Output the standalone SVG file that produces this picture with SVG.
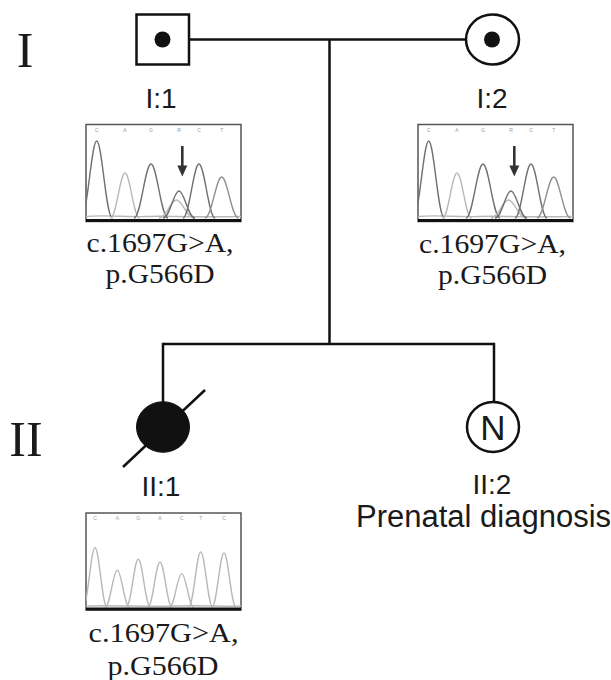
<svg xmlns="http://www.w3.org/2000/svg" xmlns:xlink="http://www.w3.org/1999/xlink" width="611" height="680" viewBox="0 0 611 680">
<style>
  .ln { stroke: #111; stroke-width: 2.5; fill: none; }
  .sym { stroke: #111; stroke-width: 2.5; fill: #fff; }
  .lab { font-family: "Liberation Sans", Arial, sans-serif; font-size: 28px; fill: #1a1a1a; text-anchor: middle; }
  .gen { font-family: "Liberation Serif", "Times New Roman", serif; font-size: 50px; fill: #1a1a1a; text-anchor: middle; }
  .mut { font-family: "Liberation Serif", "Times New Roman", serif; font-size: 27px; fill: #1a1a1a; text-anchor: middle; }
  .base { font-family: "Liberation Sans", Arial, sans-serif; font-size: 5px; fill: #999; text-anchor: middle; }
  .pk { fill: none; stroke-width: 1.4; }
  .dk { stroke: #707070; }
  .md { stroke: #909090; }
  .lt { stroke: #b8b8b8; }
</style>
<defs>
  <clipPath id="boxclip"><rect x="0" y="0" width="155" height="97"/></clipPath>
  <g id="chromHet">
    <rect x="0" y="0" width="155" height="97" fill="#fff" stroke="#555" stroke-width="1.5"/>
    <g clip-path="url(#boxclip)">
      <text class="base" x="10.7" y="7">C</text>
      <text class="base" x="39" y="7">A</text>
      <text class="base" x="65" y="7">G</text>
      <text class="base" x="93" y="7">R</text>
      <text class="base" x="113" y="7">C</text>
      <text class="base" x="135.7" y="7">T</text>
      <path class="pk lt" d="M0,92 C20,90 40,93 60,92 C80,91 100,93 155,92"/>
      <path class="pk dk" d="M-5,93.5 C1.5,93.5 5.3,16.5 10.7,16.5 C16.1,16.5 19.9,93.5 26.4,93.5"/>
      <path class="pk lt" d="M24.5,93.5 C30.4,93.5 33.9,48.5 39,48.5 C44.1,48.5 47.6,93.5 53.5,93.5"/>
      <path class="pk dk" d="M48,93.5 C54.8,93.5 59.1,39.5 65,39.5 C70.9,39.5 75.2,93.5 82,93.5"/>
      <path class="pk lt" d="M73,93.5 C80.4,93.5 84.5,75.5 90.5,75.5 C96.5,75.5 100.6,93.5 108,93.5"/>
      <path class="pk dk" d="M77,93.5 C84,93.5 87.5,66.5 93,66.5 C98.5,66.5 102,93.5 109,93.5"/>
      <path class="pk dk" d="M97,93.5 C103.3,93.5 107.5,39.5 113,39.5 C118.5,39.5 122.7,93.5 129,93.5"/>
      <path class="pk md" d="M119,93.5 C125.8,93.5 130,52.5 135.7,52.5 C141.4,52.5 145.6,93.5 152.4,93.5"/>
    </g>
    <line x1="0" y1="96" x2="155" y2="96" stroke="#111" stroke-width="3"/>
    <line x1="96.3" y1="21.5" x2="96.3" y2="42" stroke="#333" stroke-width="2.6"/>
    <polygon points="91.3,41 101.3,41 96.3,52" fill="#333"/>
  </g>
  <g id="chromHom">
    <rect x="0" y="0" width="155" height="97" fill="#fff" stroke="#555" stroke-width="1.5"/>
    <g clip-path="url(#boxclip)">
      <text class="base" x="9" y="7">C</text>
      <text class="base" x="31.3" y="7">A</text>
      <text class="base" x="52.3" y="7">G</text>
      <text class="base" x="74" y="7">A</text>
      <text class="base" x="95.7" y="7">C</text>
      <text class="base" x="114.7" y="7">T</text>
      <text class="base" x="138" y="7">C</text>
      <path class="pk lt" d="M0,93 C30,92 60,94 90,93 C120,92 140,94 155,93"/>
      <path class="pk lt" d="M-3,94 C1.8,94 4.8,34.6 9,34.6 C13.2,34.6 16.2,94 21,94"/>
      <path class="pk lt" d="M19.3,94 C24.1,94 27.1,57.3 31.3,57.3 C35.5,57.3 38.5,94 43.3,94"/>
      <path class="pk lt" d="M40.3,94 C45.1,94 48.1,46.3 52.3,46.3 C56.5,46.3 59.5,94 64.3,94"/>
      <path class="pk lt" d="M62,94 C66.8,94 69.8,49 74,49 C78.2,49 81.2,94 86,94"/>
      <path class="pk lt" d="M83.7,94 C88.5,94 91.5,60.6 95.7,60.6 C99.9,60.6 102.9,94 107.7,94"/>
      <path class="pk lt" d="M102.7,94 C107.5,94 110.5,39 114.7,39 C118.9,39 121.9,94 126.7,94"/>
      <path class="pk lt" d="M126,94 C130.8,94 133.8,40 138,40 C142.2,40 145.2,94 150,94"/>
    </g>
    <line x1="0" y1="96" x2="155" y2="96" stroke="#111" stroke-width="3"/>
  </g>
</defs>
<rect width="611" height="680" fill="#fff"/>

<g id="generation-labels">
  <text class="gen" x="25" y="67">I</text>
  <text class="gen" x="26" y="456">II</text>
</g>

<g id="connectors">
  <line class="ln" x1="189" y1="39.5" x2="466" y2="39.5"/>
  <line class="ln" x1="329.5" y1="39.5" x2="329.5" y2="344"/>
  <line class="ln" x1="163" y1="344" x2="494" y2="344"/>
  <line class="ln" x1="163" y1="342.8" x2="163" y2="402"/>
  <line class="ln" x1="494" y1="342.8" x2="494" y2="402"/>
</g>

<g id="I-1">
  <rect class="sym" x="136.5" y="14.5" width="52.5" height="50"/>
  <circle cx="162.5" cy="39.5" r="8" fill="#111"/>
  <text class="lab" x="161" y="108">I:1</text>
  <use xlink:href="#chromHet" href="#chromHet" transform="translate(86,124.5)"/>
  <text class="mut" x="160" y="252" textLength="147" lengthAdjust="spacingAndGlyphs">c.1697G&gt;A,</text>
  <text class="mut" x="160" y="283" textLength="109" lengthAdjust="spacingAndGlyphs">p.G566D</text>
</g>

<g id="I-2">
  <ellipse class="sym" cx="492.5" cy="39.5" rx="26.5" ry="25"/>
  <circle cx="492" cy="39.5" r="8" fill="#111"/>
  <text class="lab" x="492" y="108">I:2</text>
  <use xlink:href="#chromHet" href="#chromHet" transform="translate(418,124.5)"/>
  <text class="mut" x="492.5" y="253" textLength="147" lengthAdjust="spacingAndGlyphs">c.1697G&gt;A,</text>
  <text class="mut" x="492.5" y="284" textLength="109" lengthAdjust="spacingAndGlyphs">p.G566D</text>
</g>

<g id="II-1">
  <ellipse cx="163" cy="427" rx="26.5" ry="25.3" fill="#111" stroke="#111" stroke-width="1"/>
  <line class="ln" x1="123" y1="467" x2="205" y2="390"/>
  <text class="lab" x="161" y="496">II:1</text>
  <use xlink:href="#chromHom" href="#chromHom" transform="translate(86,513)"/>
  <text class="mut" x="163.5" y="642" textLength="150" lengthAdjust="spacingAndGlyphs">c.1697G&gt;A,</text>
  <text class="mut" x="163" y="675" textLength="111" lengthAdjust="spacingAndGlyphs">p.G566D</text>
</g>

<g id="II-2">
  <ellipse class="sym" cx="493" cy="427" rx="26" ry="25"/>
  <text x="493" y="440" font-family="'Liberation Sans', Arial, sans-serif" font-size="35" fill="#1a1a1a" text-anchor="middle">N</text>
  <text class="lab" x="492" y="494">II:2</text>
  <text x="356" y="527" font-family="'Liberation Sans', Arial, sans-serif" font-size="31" fill="#1a1a1a">Prenatal diagnosis</text>
</g>
</svg>
